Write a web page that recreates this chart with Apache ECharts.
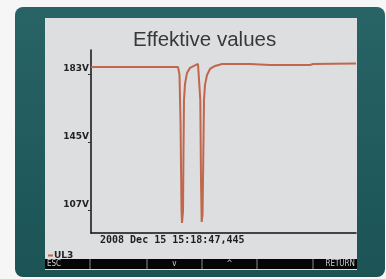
<!DOCTYPE html>
<html><head><meta charset="utf-8">
<script src="https://cdn.jsdelivr.net/npm/echarts@6/dist/echarts.min.js"></script>
<style>html,body{margin:0;padding:0;background:#f6f6f6;}#c{width:386px;height:279px;}</style>
</head><body><div id="c"></div>
<script>
// Time axis (sample index) and voltage (V)
const sampleT = [0, 30, 60, 87, 88.5, 89.5, 90.5, 91, 92, 92.5, 93, 94, 96, 99, 103, 107, 108.5, 109.3, 110, 110.7, 111.5, 112, 113, 114, 116, 119, 124, 131, 159, 179, 219, 222, 265];
const voltsUL3 = [186.9, 186.9, 186.9, 186.9, 182.5, 157, 107, 99.7, 106, 140.5, 168.5, 177.4, 183.6, 186.4, 187.5, 188.6, 188, 168.5, 123.7, 100.3, 104.2, 123.7, 168.5, 176.9, 182.4, 185.8, 187.5, 188.6, 188.6, 188, 188, 188.6, 188.9];
const yTicks = [107, 145, 183];
const seriesName = 'UL3';
const titleText = 'Effektive values';
const timeStamp = '2008 Dec 15 15:18:47,445';
const softKeys = ['ESC', '', 'v', '^', '', 'RETURN'];

const chart = echarts.init(document.getElementById('c'), null, {renderer: 'canvas'});
const data = sampleT.map((t, i) => [t, voltsUL3[i]]);

const keyEdges = [45, 90, 147, 202, 257, 313, 357];
const keyGraphics = [];
for (let i = 1; i < keyEdges.length - 1; i++) {
  keyGraphics.push({type: 'line', shape: {x1: keyEdges[i], y1: 259, x2: keyEdges[i], y2: 269}, style: {stroke: '#8a8a8a', lineWidth: 1}, z: 3});
}
softKeys.forEach((k, i) => {
  if (!k) return;
  let x, align;
  if (i === 0) { x = keyEdges[0] + 2; align = 'left'; }
  else if (i === softKeys.length - 1) { x = keyEdges[i + 1] - 2; align = 'right'; }
  else { x = (keyEdges[i] + keyEdges[i + 1]) / 2; align = 'center'; }
  keyGraphics.push({type: 'text', x: x, y: 264, style: {text: k, fill: '#d0d0d0', font: '8px "DejaVu Sans Condensed", "DejaVu Sans", sans-serif', align: align, verticalAlign: 'middle'}, z: 3});
});

chart.setOption({
  backgroundColor: '#f6f6f6',
  animation: false,
  graphic: [
    {type: 'rect', shape: {x: 15, y: 7, width: 370, height: 270, r: 8}, style: {fill: new echarts.graphic.LinearGradient(0, 0, 0, 1, [{offset: 0, color: '#286365'}, {offset: 1, color: '#1c5456'}])}, z: -10},
    {type: 'rect', shape: {x: 45, y: 18, width: 312, height: 252}, style: {fill: '#dcdedf'}, z: -9},
    {type: 'rect', shape: {x: 45, y: 259, width: 312, height: 10}, style: {fill: '#050505'}, z: 2},
    {type: 'text', x: 100, y: 240, style: {text: timeStamp, fill: '#1e1e1e', font: 'bold 10px "DejaVu Sans Mono", monospace', verticalAlign: 'middle'}, z: 3},
    ...keyGraphics
  ],
  title: {
    text: titleText, left: 128, top: 25,
    textStyle: {fontFamily: '"Liberation Sans", Arial, sans-serif', fontWeight: 'normal', fontSize: 20.5, color: '#383838'}
  },
  legend: {
    data: [seriesName], left: 43, top: 246, icon: 'rect', itemWidth: 5, itemHeight: 2,
    textStyle: {fontSize: 9, fontWeight: 'bold', color: '#222', fontFamily: '"DejaVu Sans", sans-serif', padding: [0, 0, 0, -4]}
  },
  grid: {left: 91, top: 50, right: 30, bottom: 46, containLabel: false},
  xAxis: {
    type: 'value', min: 0, max: 265,
    axisLine: {show: true, lineStyle: {color: '#111', width: 1.5}},
    axisTick: {show: false}, axisLabel: {show: false}, splitLine: {show: false}
  },
  yAxis: {
    type: 'value', min: 94.1, max: 196.4,
    axisLine: {show: true, lineStyle: {color: '#111', width: 1.5}},
    axisTick: {show: true, length: 3, customValues: yTicks, lineStyle: {color: '#333'}},
    axisLabel: {
      customValues: yTicks, margin: 2, formatter: v => v + 'V',
      fontSize: 9, fontWeight: 'bold', color: '#222', fontFamily: '"DejaVu Sans", sans-serif',
      verticalAlign: 'bottom', padding: [0, 0, 1, 0]
    },
    splitLine: {show: false}
  },
  series: [{
    name: seriesName, type: 'line', data: data, showSymbol: false, symbol: 'none',
    lineStyle: {color: '#c0674d', width: 2}, itemStyle: {color: '#c0674d'}
  }]
});
</script></body></html>
